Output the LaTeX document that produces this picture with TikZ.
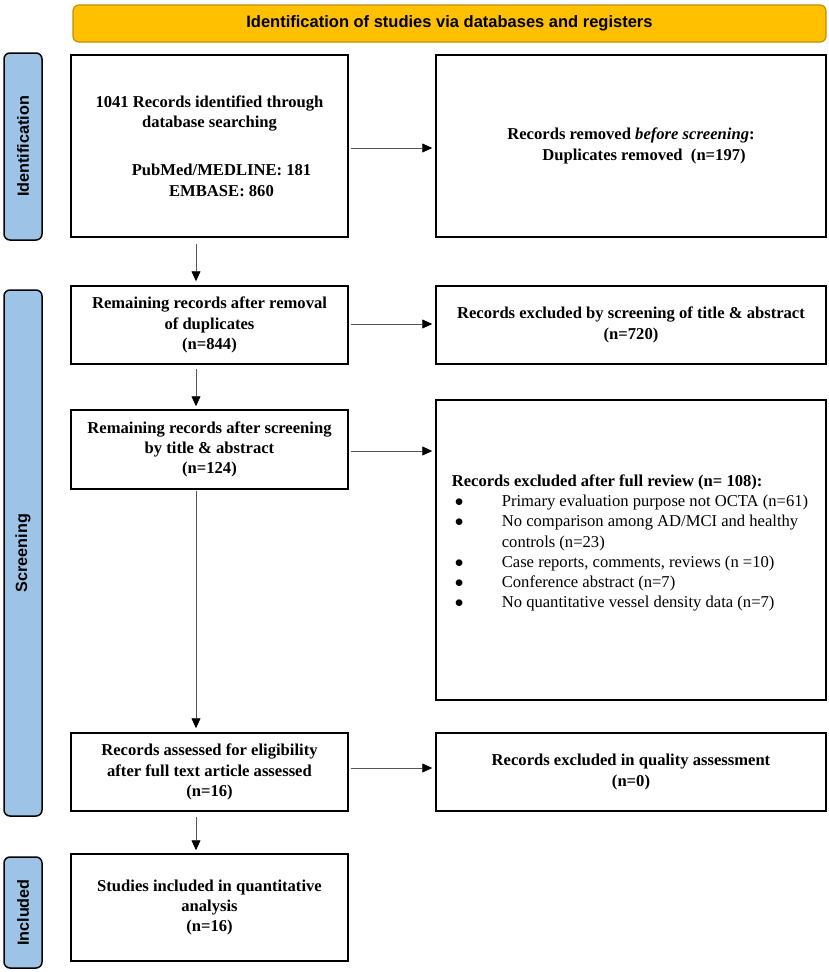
\documentclass[tikz,border=0pt]{standalone}
\usepackage{fontspec}
\setmainfont{Liberation Serif}
\newfontfamily\labelfont{Liberation Sans}
\usetikzlibrary{arrows.meta,calc}
\definecolor{bannerfill}{HTML}{FFC000}
\definecolor{bannerdraw}{HTML}{BF9000}
\definecolor{sidefill}{HTML}{9DC3E6}
\definecolor{arrowgray}{HTML}{555555}
\newcommand{\itemrow}[1]{\makebox[48pt][l]{\hspace*{1pt}$\bullet$}#1}
\begin{document}
\begin{tikzpicture}[x=1pt,y=-1pt,
  box/.style={draw=black,line width=1.5pt,fill=white,inner sep=0pt,align=center,
    font=\fontsize{16.6}{20.3}\selectfont\bfseries},
  banner/.style={draw=bannerdraw,line width=1.2pt,fill=bannerfill,rounded corners=6pt,
    inner sep=0pt,font=\labelfont\fontsize{16.5}{20}\selectfont\bfseries},
  sidelabel/.style={draw=black,line width=1.5pt,fill=sidefill,rounded corners=6pt,
    rotate=90,inner sep=0pt,font=\labelfont\fontsize{16.2}{20}\selectfont\bfseries},
  flow/.style={draw=arrowgray,line width=0.8pt,
    -{Triangle[length=10pt,width=9pt,color=black,fill=black]}},
]
\useasboundingbox (0,0) rectangle (829,972);

% banner
\node[banner,minimum width=753pt,minimum height=37pt] (ban) at (449.5,23.5)
  {Identification of studies via databases and registers};

% side labels
\node[sidelabel,minimum width=187pt,minimum height=38pt] (lid) at (23,146.5) {Identification};
\node[sidelabel,minimum width=526pt,minimum height=38pt] (lsc) at (23,553) {Screening};
\node[sidelabel,minimum width=111pt,minimum height=38pt] (lin) at (23,912.5) {Included};

% boxes
\node[box,minimum width=277pt,minimum height=182pt] (b1) at (209.5,146)
  {1041 Records identified through\\ database searching\\[28pt]
   \hspace*{24pt}PubMed/MEDLINE: 181\\ \hspace*{24pt}EMBASE: 860};
\node[box,minimum width=390pt,minimum height=182pt] (b2) at (631,146)
  {\begin{tabular}{@{}l@{}}Records removed \textit{before screening}:\\
   \hspace*{35pt}Duplicates removed~~(n=197)\end{tabular}};

\node[box,minimum width=277pt,minimum height=78pt] (b3) at (209.5,325)
  {Remaining records after removal\\ of duplicates\\ (n=844)};
\node[box,minimum width=390pt,minimum height=78pt] (b4) at (631,325)
  {Records excluded by screening of title \& abstract\\ (n=720)};

\node[box,minimum width=277pt,minimum height=79pt] (b5) at (209.5,449.5)
  {Remaining records after screening\\ by title \& abstract\\ (n=124)};
\node[box,minimum width=390pt,minimum height=300pt] (b6) at (631,550)
  {\begin{tabular}{@{}l@{}}
   \hspace*{-2pt}Records excluded after full review (n= 108):\\
   \mdseries\itemrow{Primary evaluation purpose not OCTA (n=61)}\\
   \mdseries\itemrow{No comparison among AD/MCI and healthy}\\
   \mdseries\hspace*{48pt}controls (n=23)\\
   \mdseries\itemrow{Case reports, comments, reviews (n =10)}\\
   \mdseries\itemrow{Conference abstract (n=7)}\\
   \mdseries\itemrow{No quantitative vessel density data (n=7)}\\[14pt]
   \end{tabular}};

\node[box,minimum width=277pt,minimum height=78pt] (b7) at (209.5,772)
  {Records assessed for eligibility\\ after full text article assessed\\ (n=16)};
\node[box,minimum width=390pt,minimum height=78pt] (b8) at (631,772)
  {Records excluded in quality assessment\\ (n=0)};

\node[box,minimum width=277pt,minimum height=107pt] (b9) at (209.5,907.5)
  {Studies included in quantitative\\ analysis\\ (n=16)};

% connectors
\coordinate (vx) at (196,0);
\draw[flow,shorten <=2pt,shorten >=3pt] (b1.east |- 0,148) -- (b2.west |- 0,148);
\draw[flow,shorten <=2pt,shorten >=3pt] (b3.east |- 0,324) -- (b4.west |- 0,324);
\draw[flow,shorten <=2pt,shorten >=3pt] (b5.east |- 0,451) -- (b6.west |- 0,451);
\draw[flow,shorten <=2pt,shorten >=3pt] (b7.east |- 0,768) -- (b8.west |- 0,768);

\draw[flow,shorten <=6pt,shorten >=4pt] (b1.south -| vx) -- (b3.north -| vx);
\draw[flow,shorten <=4pt,shorten >=3pt] (b3.south -| vx) -- (b5.north -| vx);
\draw[flow,shorten <=1pt,shorten >=4pt] (b5.south -| vx) -- (b7.north -| vx);
\draw[flow,shorten <=5pt,shorten >=3pt] (b7.south -| vx) -- (b9.north -| vx);
\end{tikzpicture}
\end{document}
